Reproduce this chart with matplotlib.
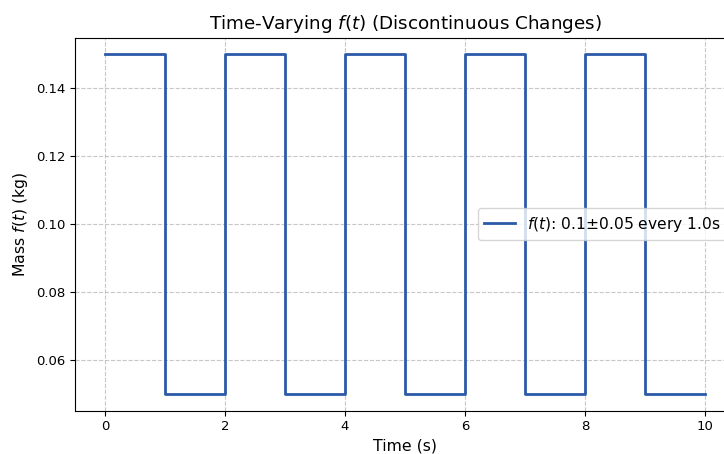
import matplotlib
matplotlib.use("Agg")
import matplotlib.pyplot as plt

times = [0, 1, 2, 3, 4, 5, 6, 7, 8, 9, 10]
mass = [0.15, 0.05, 0.15, 0.05, 0.15, 0.05, 0.15, 0.05, 0.15, 0.05, 0.05]
xticks = [0, 2, 4, 6, 8, 10]
yticks = [0.06, 0.08, 0.10, 0.12, 0.14]

W, H = 724, 454
fig = plt.figure(figsize=(W / 100, H / 100), dpi=100)
ax = fig.add_axes([75 / W, (H - 410.5) / H, (735 - 75) / W, (410.5 - 37.5) / H])

ax.step(times, mass, where="post", color="#2c5aa8", linewidth=2,
        label=r"$f(t)$: 0.1±0.05 every 1.0s")
ax.set_xlim(-0.5, 10.5)
ax.set_ylim(0.045, 0.155)
ax.set_xticks(xticks)
ax.set_yticks(yticks)
ax.set_yticklabels([f"{v:.2f}" for v in yticks])
ax.tick_params(labelsize=9.5)
ax.grid(True, linestyle="--", alpha=0.7)
ax.set_xlabel("Time (s)", fontsize=11.3)
ax.set_ylabel(r"Mass $f(t)$ (kg)", fontsize=11.3)
ax.set_title(r"Time-Varying $f(t)$ (Discontinuous Changes)", fontsize=13.2)
ax.legend(loc="center right", fontsize=11.2)

fig.savefig("out.png", dpi=100)
